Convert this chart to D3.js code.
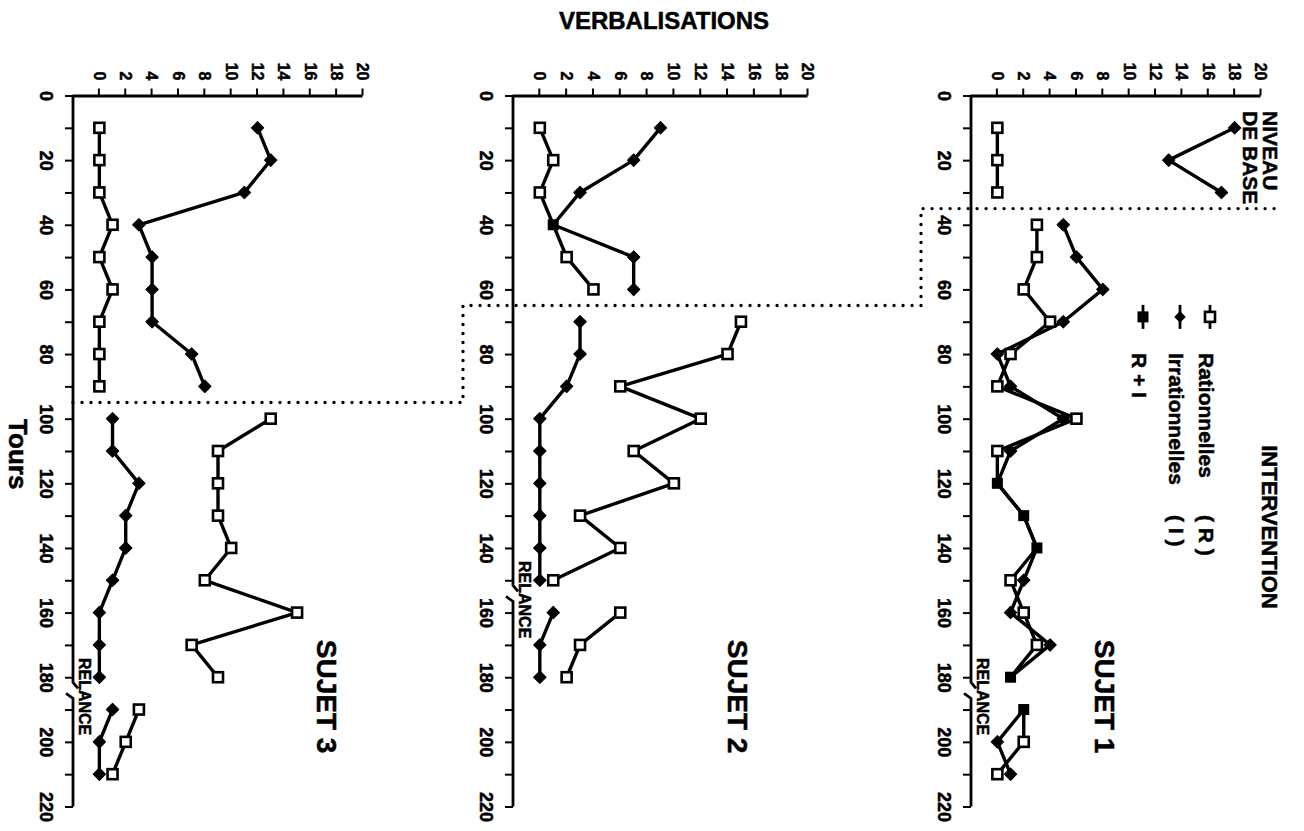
<!DOCTYPE html>
<html>
<head>
<meta charset="utf-8">
<script src="https://cdn.jsdelivr.net/npm/d3@7"></script>
<style>
  body { margin: 0; background: #fff; }
  svg  { display: block; font-family: "Liberation Sans", Arial, Helvetica, sans-serif; font-weight: bold; }
  svg text { stroke: #000; stroke-width: 0.5px; }
  .axis text { font-family: "Liberation Sans", Arial, sans-serif; font-weight: bold; fill: #000; }
  .axis line { stroke: #000; stroke-width: 2; }
  .serie { fill: none; stroke: #000; stroke-width: 3.4; stroke-linejoin: round; }
</style>
</head>
<body>
<div id="graph"></div>
<script>
//
// Data
//
var sujets = ['SUJET 1', 'SUJET 2', 'SUJET 3'];

var tours1 = [10, 20, 30, 40, 50, 60, 70, 80, 90, 100, 110, 120, 130, 140, 150, 160, 170, 180, 190, 200, 210];
var rat1   = [ 0,  0,  0,  3,  3,  2,  4,  1,  0,   6,   0,   0,   2,   3,   1,   2,   3,   1,   2,   2,   0];
var irr1   = [18, 13, 17,  5,  6,  8,  5,  0,  1,   5,   1,   0,   2,   3,   2,   1,   4,   1,   2,   0,   1];

var tours2 = [10, 20, 30, 40, 50, 60, 70, 80, 90, 100, 110, 120, 130, 140, 150, 160, 170, 180];
var rat2   = [ 0,  1,  0,  1,  2,  4, 15, 14,  6,  12,   7,  10,   3,   6,   1,   6,   3,   2];
var irr2   = [ 9,  7,  3,  1,  7,  7,  3,  3,  2,   0,   0,   0,   0,   0,   0,   1,   0,   0];

var tours3 = [10, 20, 30, 40, 50, 60, 70, 80, 90, 100, 110, 120, 130, 140, 150, 160, 170, 180, 190, 200, 210];
var rat3   = [ 0,  0,  0,  1,  0,  1,  0,  0,  0,  13,   9,   9,   9,  10,   8,  15,   7,   9,   3,   2,   1];
var irr3   = [12, 13, 11,  3,  4,  4,  4,  7,  8,   1,   1,   3,   2,   2,   1,   0,   0,   0,   1,   0,   0];

var phaseTours   = [35, 65, 95];     // fin du niveau de base (pointillés)
var relanceTours = [185, 155, 185];  // relance

var tourTicks = [0, 20, 40, 60, 80, 100, 120, 140, 160, 180, 200, 220];
var verbTicks = [0, 2, 4, 6, 8, 10, 12, 14, 16, 18, 20];

var legendLabels = ['Rationnelles', 'Irrationnelles', 'R + I'];
var legendTags   = ['( R )', '( I )', ''];

var toursAll = [tours1, tours2, tours3];
var ratAll   = [rat1, rat2, rat3];
var irrAll   = [irr1, irr2, irr3];

//
// Layout (the figure is drawn in its own frame, then turned a quarter clockwise)
//
var W = 1304, H = 831;
var panelBottom = [333, 791, 1231];
var panelTop    = [43, 496, 941];
var sujetLabelValue = [7.4, 14, 16.5];
var stairGap = 50;

var svg = d3.select('div#graph')
            .append('svg')
            .attr('width', W)
            .attr('height', H);

var g = svg.append('g')
           .attr('transform', 'translate(' + W + ',0) rotate(90)');

var tScale = d3.scaleLinear()
               .domain([0, 220])
               .range([95.5, 806.5]);

// split a series into runs, cut at the phase / relance tours
var splitRuns = function (tours, vals, cuts)
{
    var runs = [], cur = [];
    for (var i = 0; i < tours.length; i++)
    {
        if (i > 0)
        {
            var a = tours[i - 1], b = tours[i];
            var cut = cuts.some(function (c) { return c > a && c < b; });
            if (cut) { runs.push(cur); cur = []; }
        }
        cur.push({ t: tours[i], v: vals[i] });
    }
    runs.push(cur);
    return runs;
};

var sq = 10, sqFull = 11;

sujets.forEach(function (name, i)
{
    var vScale = d3.scaleLinear()
                   .domain([-2, 20])
                   .range([panelBottom[i], panelTop[i]]);

    var p = g.append('g').attr('class', 'panel');
    var base = panelBottom[i];

    // Tours axis
    var xAxis = d3.axisBottom(tScale)
                  .tickValues(d3.range(0, 221, 10))
                  .tickSize(8)
                  .tickPadding(12)
                  .tickFormat(function (d) { return tourTicks.indexOf(d) >= 0 ? d : ''; });

    var ax = p.append('g')
              .attr('class', 'axis')
              .attr('transform', 'translate(0,' + base + ')')
              .call(xAxis);
    ax.select('.domain').remove();
    ax.selectAll('text').style('font-size', '18px');

    // axis line with the relance break
    var rb = tScale(relanceTours[i]);
    p.append('path')
     .attr('d', 'M' + tScale(0) + ',' + base + 'L' + (rb - 11) + ',' + base + 'L' + (rb - 5) + ',' + (base - 5) +
                'M' + rb + ',' + (base + 7) + 'L' + (rb + 5) + ',' + base + 'L' + tScale(220) + ',' + base)
     .attr('fill', 'none')
     .attr('stroke', '#000')
     .attr('stroke-width', 2.8);

    // Verbalisations axis
    var yAxis = d3.axisLeft(vScale)
                  .tickValues(verbTicks)
                  .tickSize(7)
                  .tickSizeOuter(0)
                  .tickPadding(8);

    var ay = p.append('g')
              .attr('class', 'axis')
              .attr('transform', 'translate(' + tScale(0) + ',0)')
              .call(yAxis);
    ay.select('.domain').attr('stroke-width', 2.8);
    ay.selectAll('text').style('font-size', '16px');

    // series
    var line = d3.line()
                 .x(function (d) { return tScale(d.t); })
                 .y(function (d) { return vScale(d.v); });

    var cuts = [phaseTours[i], relanceTours[i]];
    var tours = toursAll[i], rat = ratAll[i], irr = irrAll[i];

    splitRuns(tours, irr, cuts).forEach(function (run)
    {
        p.append('path').datum(run).attr('class', 'serie').attr('d', line);
    });
    splitRuns(tours, rat, cuts).forEach(function (run)
    {
        p.append('path').datum(run).attr('class', 'serie').attr('d', line);
    });

    var pts = tours.map(function (t, k) { return { t: t, r: rat[k], i: irr[k] }; });

    p.selectAll('.diam')
     .data(pts.filter(function (d) { return d.r !== d.i; }))
     .enter().append('path')
     .attr('class', 'diam')
     .attr('d', d3.symbol().type(d3.symbolDiamond2).size(95))
     .attr('transform', function (d) { return 'translate(' + tScale(d.t) + ',' + vScale(d.i) + ')'; })
     .attr('fill', '#000')
     .attr('stroke', '#000')
     .attr('stroke-width', 1.2)
     .attr('stroke-linejoin', 'round');

    p.selectAll('.sqo')
     .data(pts.filter(function (d) { return d.r !== d.i; }))
     .enter().append('rect')
     .attr('class', 'sqo')
     .attr('x', function (d) { return tScale(d.t) - sq / 2; })
     .attr('y', function (d) { return vScale(d.r) - sq / 2; })
     .attr('width', sq)
     .attr('height', sq)
     .attr('fill', '#fff')
     .attr('stroke', '#000')
     .attr('stroke-width', 2.6);

    p.selectAll('.sqf')
     .data(pts.filter(function (d) { return d.r === d.i; }))
     .enter().append('rect')
     .attr('class', 'sqf')
     .attr('x', function (d) { return tScale(d.t) - sqFull / 2; })
     .attr('y', function (d) { return vScale(d.r) - sqFull / 2; })
     .attr('width', sqFull)
     .attr('height', sqFull)
     .attr('fill', '#000');

    // RELANCE
    p.append('text')
     .attr('x', tScale(relanceTours[i] + 1))
     .attr('y', base - 6)
     .attr('text-anchor', 'middle')
     .style('font-size', '16px')
     .text('RELANCE');

    // SUJET n
    p.append('text')
     .attr('x', tScale(186))
     .attr('y', vScale(sujetLabelValue[i]))
     .attr('text-anchor', 'middle')
     .style('font-size', '28px')
     .text(name);
});

//
// Dotted phase line (staircase across the three panels)
//
var stairs = [];
for (var i = 2; i >= 0; i--)
{
    var u = tScale(phaseTours[i]);
    var vStart = (i === 2) ? panelBottom[2] : panelBottom[i] + stairGap;
    var vEnd   = (i === 0) ? panelTop[0] - 21 : panelBottom[i - 1] + stairGap;
    stairs.push([u, vStart]);
    stairs.push([u, vEnd]);
}
g.append('path')
 .attr('d', d3.line()(stairs))
 .attr('fill', 'none')
 .attr('stroke', '#000')
 .attr('stroke-width', 3.4)
 .attr('stroke-linecap', 'round')
 .attr('stroke-dasharray', '0 9');

//
// Panel 1 annotations: NIVEAU DE BASE, INTERVENTION, legend
//
g.append('text').attr('x', tScale(4.8)).attr('y', 41).style('font-size', '21px').text('NIVEAU');
g.append('text').attr('x', tScale(4.8)).attr('y', 61).style('font-size', '21px').text('DE BASE');

g.append('text')
 .attr('x', tScale(133.5))
 .attr('y', 42)
 .attr('text-anchor', 'middle')
 .style('font-size', '22px')
 .text('INTERVENTION');

var legendRows = [94, 124, 161];
legendLabels.forEach(function (lab, k)
{
    var v = legendRows[k];
    var um = tScale(68.5);
    g.append('line')
     .attr('x1', um - 12).attr('x2', um + 12)
     .attr('y1', v).attr('y2', v)
     .attr('stroke', '#000').attr('stroke-width', 2.8);

    if (k === 0)
        g.append('rect').attr('x', um - sq / 2).attr('y', v - sq / 2).attr('width', sq).attr('height', sq)
         .attr('fill', '#fff').attr('stroke', '#000').attr('stroke-width', 2.6);
    else if (k === 1)
        g.append('path').attr('d', d3.symbol().type(d3.symbolDiamond2).size(85))
         .attr('transform', 'translate(' + um + ',' + v + ')').attr('fill', '#000');
    else
        g.append('rect').attr('x', um - sqFull / 2).attr('y', v - sqFull / 2).attr('width', sqFull).attr('height', sqFull)
         .attr('fill', '#000');

    g.append('text').attr('x', 353).attr('y', v + 11).style('font-size', '21px').text(lab);
    if (legendTags[k])
        g.append('text').attr('x', 515).attr('y', v + 11).style('font-size', '21px')
         .attr('xml:space', 'preserve').text(legendTags[k]);
});

// Tours title (bottom of the unturned figure)
g.append('text')
 .attr('x', tScale(111))
 .attr('y', 1295)
 .attr('text-anchor', 'middle')
 .style('font-size', '26px')
 .text('Tours');

// VERBALISATIONS (reads horizontally on the page)
svg.append('text')
   .attr('x', 664)
   .attr('y', 29)
   .attr('text-anchor', 'middle')
   .style('font-size', '24px')
   .text('VERBALISATIONS');
</script>
</body>
</html>
